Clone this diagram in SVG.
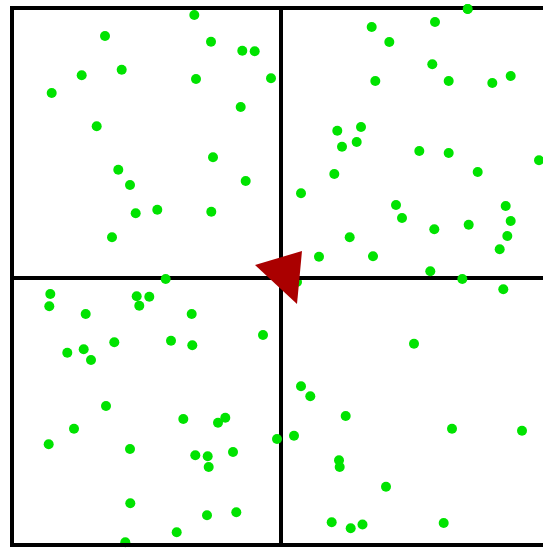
<svg xmlns="http://www.w3.org/2000/svg" width="543" height="550" viewBox="0 0 543 550">
<style>
.frame{fill:none;stroke:#000;stroke-width:4}
.d{fill:#00e300}
</style>
<rect width="543" height="550" fill="#fff"/>
<g id="dots">
<circle class="d" cx="105" cy="36" r="5"/>
<circle class="d" cx="121.7" cy="69.7" r="5"/>
<circle class="d" cx="81.7" cy="75.3" r="5"/>
<circle class="d" cx="51.7" cy="93" r="5"/>
<circle class="d" cx="96.7" cy="126.3" r="5"/>
<circle class="d" cx="118.3" cy="169.7" r="5"/>
<circle class="d" cx="130" cy="185" r="5"/>
<circle class="d" cx="194.3" cy="15" r="5"/>
<circle class="d" cx="211" cy="41.7" r="5"/>
<circle class="d" cx="242.3" cy="50.7" r="5"/>
<circle class="d" cx="254.7" cy="51.3" r="5"/>
<circle class="d" cx="196" cy="79" r="5"/>
<circle class="d" cx="271" cy="78.3" r="5"/>
<circle class="d" cx="240.7" cy="107" r="5"/>
<circle class="d" cx="337.3" cy="130.7" r="5"/>
<circle class="d" cx="361" cy="127" r="5"/>
<circle class="d" cx="356.7" cy="142" r="5"/>
<circle class="d" cx="342" cy="146.7" r="5"/>
<circle class="d" cx="213" cy="157.3" r="5"/>
<circle class="d" cx="334.3" cy="174" r="5"/>
<circle class="d" cx="245.7" cy="181" r="5"/>
<circle class="d" cx="467.7" cy="9" r="5"/>
<circle class="d" cx="371.7" cy="27" r="5"/>
<circle class="d" cx="435" cy="22" r="5"/>
<circle class="d" cx="389.3" cy="42" r="5"/>
<circle class="d" cx="432.3" cy="64.3" r="5"/>
<circle class="d" cx="375.3" cy="81" r="5"/>
<circle class="d" cx="448.7" cy="81" r="5"/>
<circle class="d" cx="492.3" cy="83" r="5"/>
<circle class="d" cx="510.7" cy="76" r="5"/>
<circle class="d" cx="419.3" cy="151" r="5"/>
<circle class="d" cx="448.7" cy="153" r="5"/>
<circle class="d" cx="539" cy="160.3" r="5"/>
<circle class="d" cx="477.7" cy="172" r="5"/>
<circle class="d" cx="135.7" cy="213.3" r="5"/>
<circle class="d" cx="157.3" cy="209.7" r="5"/>
<circle class="d" cx="112" cy="237.3" r="5"/>
<circle class="d" cx="50.3" cy="294" r="5"/>
<circle class="d" cx="49.3" cy="306.3" r="5"/>
<circle class="d" cx="136.7" cy="296.3" r="5"/>
<circle class="d" cx="149.3" cy="296.7" r="5"/>
<circle class="d" cx="139.3" cy="305.7" r="5"/>
<circle class="d" cx="85.7" cy="314" r="5"/>
<circle class="d" cx="114.3" cy="342.3" r="5"/>
<circle class="d" cx="171" cy="340.7" r="5"/>
<circle class="d" cx="67.3" cy="352.7" r="5"/>
<circle class="d" cx="83.7" cy="349.3" r="5"/>
<circle class="d" cx="91" cy="360" r="5"/>
<circle class="d" cx="301" cy="193.3" r="5"/>
<circle class="d" cx="211.3" cy="211.7" r="5"/>
<circle class="d" cx="349.7" cy="237.3" r="5"/>
<circle class="d" cx="319" cy="256.7" r="5"/>
<circle class="d" cx="297" cy="282" r="5"/>
<circle class="d" cx="191.7" cy="314" r="5"/>
<circle class="d" cx="192.3" cy="345.3" r="5"/>
<circle class="d" cx="263" cy="335" r="5"/>
<circle class="d" cx="396" cy="205" r="5"/>
<circle class="d" cx="402" cy="218" r="5"/>
<circle class="d" cx="505.7" cy="206" r="5"/>
<circle class="d" cx="510.7" cy="221" r="5"/>
<circle class="d" cx="434.3" cy="229.3" r="5"/>
<circle class="d" cx="468.7" cy="224.7" r="5"/>
<circle class="d" cx="507.3" cy="236" r="5"/>
<circle class="d" cx="499.7" cy="249.3" r="5"/>
<circle class="d" cx="373" cy="256.3" r="5"/>
<circle class="d" cx="414" cy="343.7" r="5"/>
<circle class="d" cx="503.3" cy="289.3" r="5"/>
<circle class="d" cx="106" cy="406" r="5"/>
<circle class="d" cx="74" cy="428.7" r="5"/>
<circle class="d" cx="48.7" cy="444.3" r="5"/>
<circle class="d" cx="130" cy="449" r="5"/>
<circle class="d" cx="183.3" cy="419" r="5"/>
<circle class="d" cx="130.3" cy="503.3" r="5"/>
<circle class="d" cx="176.7" cy="532.3" r="5"/>
<circle class="d" cx="125.3" cy="542.3" r="5"/>
<circle class="d" cx="218" cy="422.7" r="5"/>
<circle class="d" cx="225.3" cy="417.7" r="5"/>
<circle class="d" cx="301" cy="386.3" r="5"/>
<circle class="d" cx="310.3" cy="396.3" r="5"/>
<circle class="d" cx="345.7" cy="416" r="5"/>
<circle class="d" cx="294" cy="435.7" r="5"/>
<circle class="d" cx="195.3" cy="455.3" r="5"/>
<circle class="d" cx="207.7" cy="456.3" r="5"/>
<circle class="d" cx="208.7" cy="467" r="5"/>
<circle class="d" cx="233" cy="452" r="5"/>
<circle class="d" cx="339" cy="460.3" r="5"/>
<circle class="d" cx="339.7" cy="467" r="5"/>
<circle class="d" cx="207" cy="515.3" r="5"/>
<circle class="d" cx="236.3" cy="512.3" r="5"/>
<circle class="d" cx="331.7" cy="522.3" r="5"/>
<circle class="d" cx="350.7" cy="528.3" r="5"/>
<circle class="d" cx="362.5" cy="524.5" r="5"/>
<circle class="d" cx="452" cy="428.7" r="5"/>
<circle class="d" cx="522" cy="430.7" r="5"/>
<circle class="d" cx="386" cy="486.7" r="5"/>
<circle class="d" cx="443.7" cy="523" r="5"/>
</g>
<g id="frame">
<path class="frame" d="M560 8 H12 V545 H560 M281 8 V545 M12 278 H560"/>
</g>
<g id="overlay-dots">
<circle class="d" cx="467.7" cy="9" r="5"/>
<circle class="d" cx="165.7" cy="279" r="5"/>
<circle class="d" cx="430.3" cy="271.3" r="5"/>
<circle class="d" cx="462.3" cy="279" r="5"/>
<circle class="d" cx="277" cy="439" r="5"/>
</g>
<g id="agent">
<polygon points="255,265 302,251 297,304" fill="#aa0000"/>
</g>
</svg>
